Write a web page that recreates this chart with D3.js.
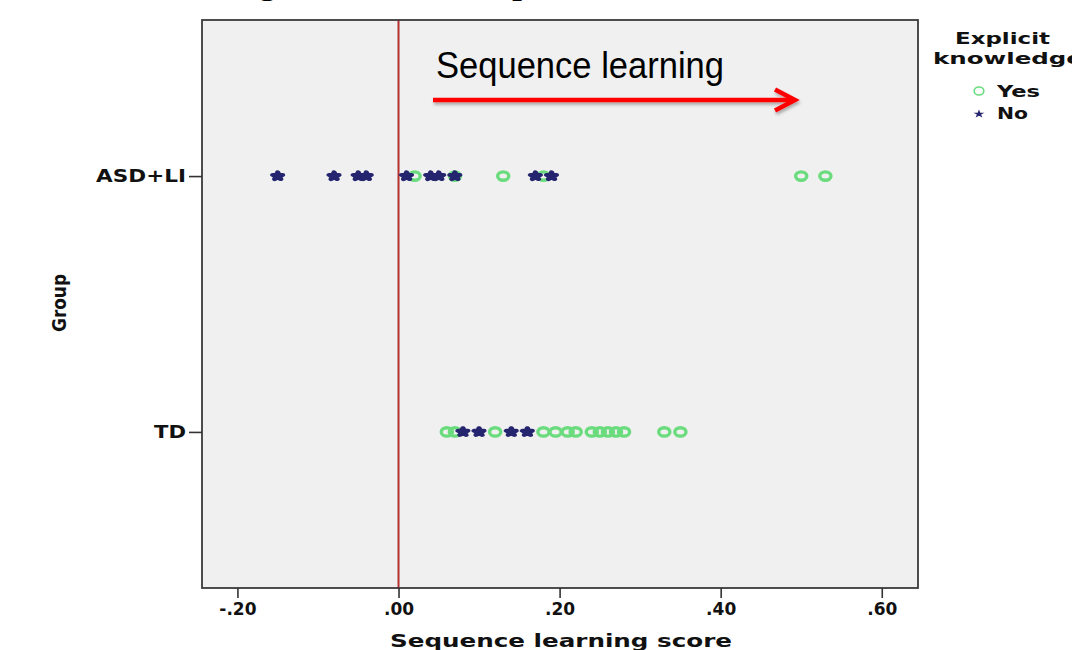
<!DOCTYPE html>
<html>
<head>
<meta charset="utf-8">
<script src="https://cdn.jsdelivr.net/npm/d3@7"></script>
<style>
  html, body { margin: 0; padding: 0; background: #ffffff; }
  svg { display: block; }
</style>
</head>
<body>
<svg id="chart" width="1072" height="650"></svg>
<script>
// ---------- data ----------
const groups = ["ASD+LI", "TD"];
const xTicks = [-0.2, 0, 0.2, 0.4, 0.6];
const xTickLabels = ["-.20", ".00", ".20", ".40", ".60"];
const asdYes = [0.02, 0.07, 0.13, 0.18, 0.50, 0.53];
const asdNo = [-0.15, -0.08, -0.05, -0.04, 0.01, 0.04, 0.05, 0.07, 0.17, 0.19];
const tdYes = [0.06, 0.07, 0.12, 0.18, 0.195, 0.21, 0.22, 0.24, 0.25, 0.26, 0.27, 0.28, 0.33, 0.35];
const tdNo = [0.08, 0.10, 0.14, 0.16];
const legendLabels = ["Yes", "No"];
const referenceValue = 0;

// ---------- layout ----------
const svg = d3.select("#chart");
const plot = { left: 202, right: 918, top: 20, bottom: 588 };
const GREEN = "#6bdc7e";
const NAVY = "#25256f";
const FONT = "'DejaVu Sans', Verdana, sans-serif";

const x = d3.scaleLinear().domain([-0.244, 0.645]).range([plot.left, plot.right]);
const y = d3.scalePoint().domain(groups).range([plot.top, plot.bottom]).padding(0.61);

// cut-off slide title (only descenders visible)
const title = svg.append("text")
  .attr("font-family", "'Liberation Serif', 'Times New Roman', serif")
  .attr("font-size", 40)
  .attr("y", -8)
  .attr("fill", "#000")
  .text("Learning results and explicit");
(function placeTitle() {
  const s = "Learning results and explicit";
  const gi = s.indexOf("g");
  const pi = s.indexOf("p");
  const n = title.node();
  const g0 = n.getStartPositionOfChar(gi).x, p0 = n.getStartPositionOfChar(pi).x;
  const f = 40 * 255 / (p0 - g0);
  title.attr("font-size", f);
  const g1 = n.getStartPositionOfChar(gi).x;
  title.attr("x", 257 - g1);
})();

// plot background
svg.append("rect")
  .attr("x", plot.left).attr("y", plot.top)
  .attr("width", plot.right - plot.left).attr("height", plot.bottom - plot.top)
  .attr("fill", "#f0f0f0");

// reference line
svg.append("line")
  .attr("x1", x(referenceValue)).attr("x2", x(referenceValue))
  .attr("y1", plot.top).attr("y2", plot.bottom)
  .attr("stroke", "#b3302c").attr("stroke-width", 2);

// points: green rings first, then navy stars
function ringLayer(vals, grp) {
  svg.append("g").selectAll("ellipse").data(vals).join("ellipse")
    .attr("cx", d => x(d)).attr("cy", y(grp))
    .attr("rx", 5.6).attr("ry", 4.2)
    .attr("fill", "none").attr("stroke", GREEN).attr("stroke-width", 3.4);
}
const star = d3.symbol().type(d3.symbolStar).size(18);
function starLayer(vals, grp) {
  svg.append("g").selectAll("path").data(vals).join("path")
    .attr("d", star)
    .attr("transform", d => `translate(${x(d)},${y(grp)}) scale(1.3,0.95)`)
    .attr("fill", NAVY).attr("stroke", NAVY).attr("stroke-width", 4)
    .attr("stroke-linejoin", "round");
}
ringLayer(asdYes, "ASD+LI");
ringLayer(tdYes, "TD");
starLayer(asdNo, "ASD+LI");
starLayer(tdNo, "TD");

// plot border
svg.append("rect")
  .attr("x", plot.left).attr("y", plot.top)
  .attr("width", plot.right - plot.left).attr("height", plot.bottom - plot.top)
  .attr("fill", "none").attr("stroke", "#3a3a3a").attr("stroke-width", 1.8);

// x axis
const xAxis = svg.append("g")
  .attr("transform", `translate(0,${plot.bottom})`)
  .call(d3.axisBottom(x).tickValues(xTicks)
    .tickFormat((d, i) => xTickLabels[i]).tickSize(10).tickPadding(5));
xAxis.select(".domain").remove();
xAxis.selectAll(".tick line").attr("stroke", "#333").attr("stroke-width", 1.6);
xAxis.selectAll(".tick text")
  .attr("font-family", FONT).attr("font-weight", "bold").attr("font-size", 17)
  .attr("fill", "#111");

// y axis
const yAxis = svg.append("g")
  .attr("transform", `translate(${plot.left},0)`)
  .call(d3.axisLeft(y).tickSize(13).tickPadding(3));
yAxis.select(".domain").remove();
yAxis.selectAll(".tick line").attr("stroke", "#333").attr("stroke-width", 1.6);
yAxis.selectAll(".tick text")
  .attr("font-family", FONT).attr("font-weight", "bold").attr("font-size", 17)
  .attr("fill", "#111")
  .attr("textLength", d => d === "ASD+LI" ? 90 : 32)
  .attr("lengthAdjust", "spacingAndGlyphs");

// axis titles
svg.append("text")
  .attr("x", 390).attr("y", 647)
  .attr("font-family", FONT).attr("font-weight", "bold").attr("font-size", 18)
  .attr("textLength", 342).attr("lengthAdjust", "spacingAndGlyphs")
  .attr("fill", "#111")
  .text("Sequence learning score");
svg.append("text")
  .attr("transform", "translate(66,303) rotate(-90)")
  .attr("text-anchor", "middle")
  .attr("font-family", FONT).attr("font-weight", "bold").attr("font-size", 19)
  .attr("textLength", 58).attr("lengthAdjust", "spacingAndGlyphs")
  .attr("fill", "#111")
  .text("Group");

// annotation
const defs = svg.append("defs");
defs.append("filter").attr("id", "shadow")
  .attr("x", "-10%").attr("y", "-100%").attr("width", "120%").attr("height", "300%")
  .append("feDropShadow")
  .attr("dx", 1).attr("dy", 2.5).attr("stdDeviation", 1.5)
  .attr("flood-color", "#000").attr("flood-opacity", 0.3);

svg.append("text")
  .attr("x", 436).attr("y", 78)
  .attr("font-family", "'Liberation Sans', Arial, sans-serif")
  .attr("font-size", 37)
  .attr("textLength", 288).attr("lengthAdjust", "spacingAndGlyphs")
  .attr("fill", "#000")
  .text("Sequence learning");
const arrow = svg.append("g").attr("filter", "url(#shadow)");
arrow.append("line")
  .attr("x1", 433).attr("x2", 793).attr("y1", 100).attr("y2", 100)
  .attr("stroke", "#ff0000").attr("stroke-width", 4.5);
arrow.append("path")
  .attr("d", "M775,89.5 L795,100 L775,110.5")
  .attr("fill", "none").attr("stroke", "#ff0000").attr("stroke-width", 4.5)
  .attr("stroke-linejoin", "miter");

// legend
const lg = svg.append("g");
lg.append("text").attr("x", 955).attr("y", 44)
  .attr("font-family", FONT).attr("font-weight", "bold").attr("font-size", 16)
  .attr("textLength", 95).attr("lengthAdjust", "spacingAndGlyphs")
  .attr("fill", "#111").text("Explicit");
lg.append("text").attr("x", 933).attr("y", 64)
  .attr("font-family", FONT).attr("font-weight", "bold").attr("font-size", 16)
  .attr("textLength", 150).attr("lengthAdjust", "spacingAndGlyphs")
  .attr("fill", "#111").text("knowledge");
lg.append("ellipse").attr("cx", 979).attr("cy", 91)
  .attr("rx", 4.8).attr("ry", 4).attr("fill", "none")
  .attr("stroke", GREEN).attr("stroke-width", 1.6);
lg.append("path")
  .attr("d", d3.symbol().type(d3.symbolStar).size(22))
  .attr("transform", "translate(979,114) scale(1.3,1)")
  .attr("fill", NAVY);
lg.selectAll("text.item").data(legendLabels).join("text")
  .attr("class", "item")
  .attr("x", 997).attr("y", (d, i) => 97 + i * 22)
  .attr("font-family", FONT).attr("font-weight", "bold").attr("font-size", 15)
  .attr("textLength", (d, i) => i === 0 ? 43 : 31).attr("lengthAdjust", "spacingAndGlyphs")
  .attr("fill", "#111").text(d => d);
</script>
</body>
</html>
